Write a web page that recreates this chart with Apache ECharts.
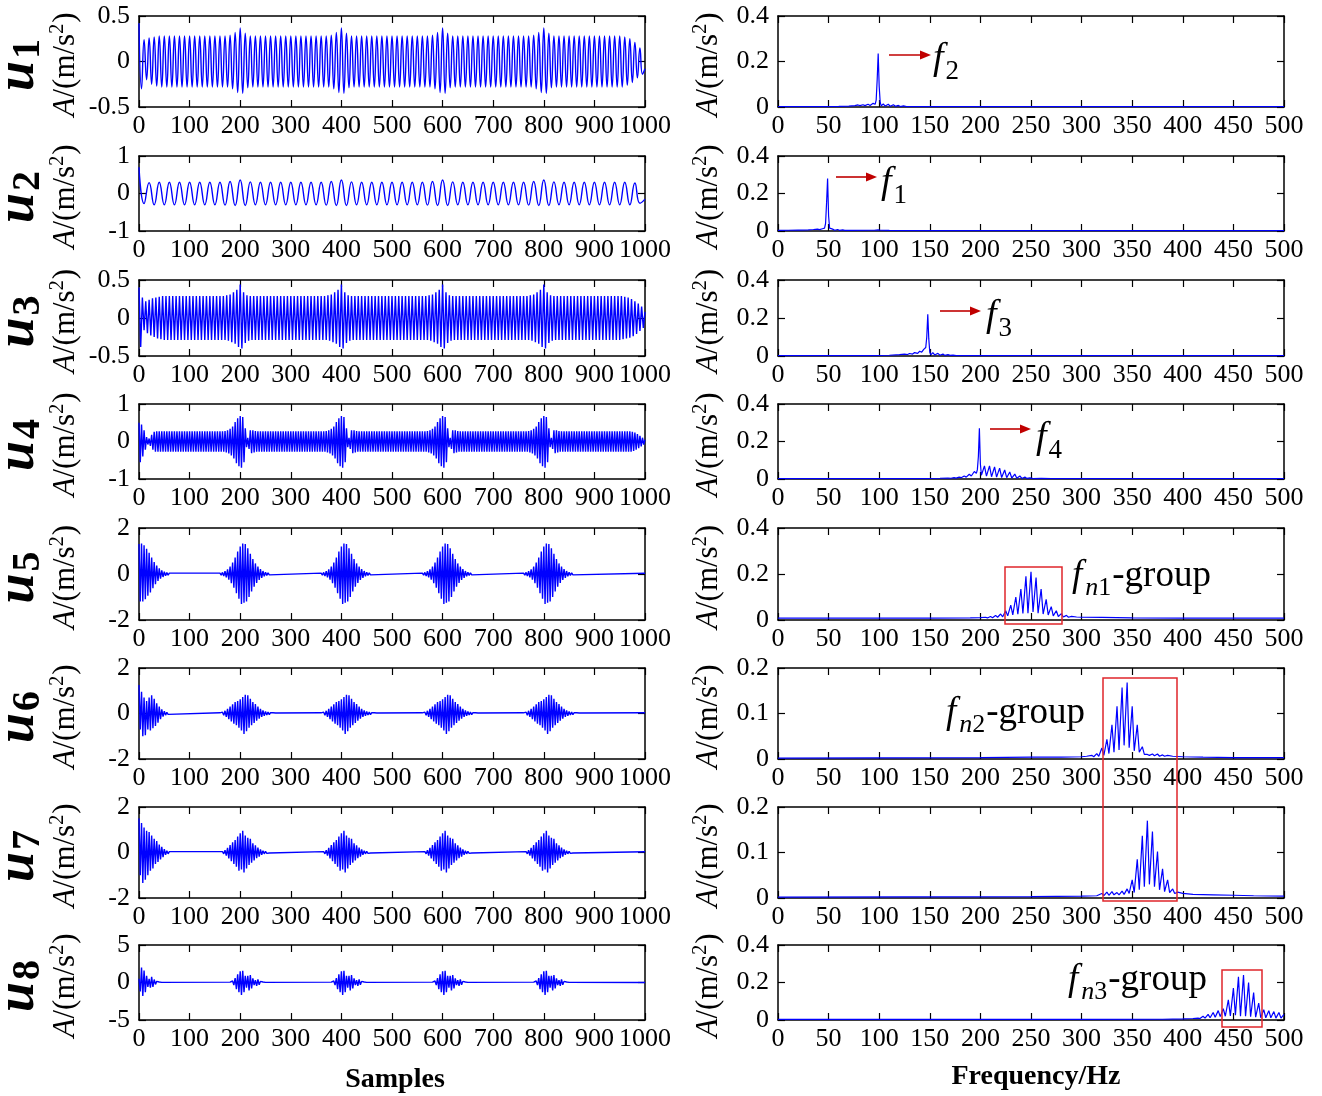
<!DOCTYPE html>
<html><head><meta charset="utf-8">
<script src="https://cdn.jsdelivr.net/npm/echarts/dist/echarts.min.js"></script>
<style>html,body{margin:0;padding:0;background:#fff}#c{width:1322px;height:1096px}</style>
</head><body><div id="c"></div>
<script>
// ---------------- DATA ----------------
const timeXTicks = [0,100,200,300,400,500,600,700,800,900,1000];
const freqXTicks = [0,50,100,150,200,250,300,350,400,450,500];
const timeYTicks = [[-0.5,0,0.5],[-1,0,1],[-0.5,0,0.5],[-1,0,1],[-2,0,2],[-2,0,2],[-2,0,2],[-5,0,5]];
const freqYTicks = [[0,0.2,0.4],[0,0.2,0.4],[0,0.2,0.4],[0,0.2,0.4],[0,0.2,0.4],[0,0.1,0.2],[0,0.1,0.2],[0,0.2,0.4]];
const modeNames = ['1','2','3','4','5','6','7','8'];

// u1: successive extremes, one every 5 samples
const u1Step = 5;
const u1 = [
.42,-.30,.24,-.20,.26,-.25,.27,-.27,.28,-.28,
.28,-.28,.28,-.28,.28,-.28,.28,-.28,.28,-.28,
.28,-.28,.28,-.28,.28,-.28,.28,-.28,.28,-.28,
.28,-.28,.28,-.28,.28,-.28,.29,-.30,.32,-.34,
.37,-.35,.31,-.29,.28,-.28,.28,-.28,.28,-.28,
.28,-.28,.28,-.28,.28,-.28,.28,-.28,.28,-.28,
.28,-.28,.28,-.28,.28,-.28,.28,-.28,.28,-.28,
.28,-.28,.28,-.28,.28,-.28,.29,-.30,.32,-.34,
.37,-.35,.31,-.29,.28,-.28,.28,-.28,.28,-.28,
.28,-.28,.28,-.28,.28,-.28,.28,-.28,.28,-.28,
.28,-.28,.28,-.28,.28,-.28,.28,-.28,.28,-.28,
.28,-.28,.28,-.28,.28,-.28,.29,-.30,.32,-.34,
.37,-.35,.31,-.29,.28,-.28,.28,-.28,.28,-.28,
.28,-.28,.28,-.28,.28,-.28,.28,-.28,.28,-.28,
.28,-.28,.28,-.28,.28,-.28,.28,-.28,.28,-.28,
.28,-.28,.28,-.28,.28,-.28,.29,-.30,.32,-.34,
.37,-.35,.31,-.29,.28,-.28,.28,-.28,.28,-.28,
.28,-.28,.28,-.28,.28,-.28,.28,-.28,.28,-.28,
.28,-.28,.28,-.28,.28,-.28,.28,-.28,.28,-.28,
.28,-.28,.27,-.26,.25,-.23,.21,-.18,.15,-.14,
-.08];

// u2: successive extremes, one every 10 samples
const u2Step = 10;
const u2 = [
.70,-.27,.29,-.30,.30,-.30,.30,-.30,.30,-.30,
.30,-.30,.30,-.30,.30,-.30,.30,-.31,.32,-.32,
.36,-.32,.31,-.30,.30,-.30,.30,-.30,.30,-.30,
.30,-.30,.30,-.30,.30,-.30,.30,-.31,.32,-.32,
.36,-.32,.31,-.30,.30,-.30,.30,-.30,.30,-.30,
.30,-.30,.30,-.30,.30,-.30,.30,-.31,.32,-.32,
.36,-.32,.31,-.30,.30,-.30,.30,-.30,.30,-.30,
.30,-.30,.30,-.30,.30,-.30,.30,-.31,.32,-.32,
.36,-.32,.31,-.30,.30,-.30,.30,-.30,.30,-.30,
.30,-.30,.30,-.30,.30,-.30,.30,-.30,.28,-.26,
-.15];

// u3: successive extremes, one every 10/3 samples
const u3Step = 10/3;
const u3 = [
.40,-.38,.27,-.16,.22,-.20,.24,-.23,.26,-.25,.27,-.27,.28,-.28,.29,
-.29,.29,-.29,.29,-.29,.29,-.29,.29,-.29,.29,-.29,.29,-.29,.29,-.29,
.29,-.29,.29,-.29,.29,-.29,.29,-.29,.29,-.29,.29,-.29,.29,-.29,.29,
-.29,.29,-.29,.29,-.29,.29,-.29,.30,-.30,.31,-.32,.34,-.34,.37,-.38,
.44,-.40,.34,-.33,.30,-.30,.29,-.29,.29,-.29,.29,-.29,.29,-.29,.29,
-.29,.29,-.29,.29,-.29,.29,-.29,.29,-.29,.29,-.29,.29,-.29,.29,-.29,
.29,-.29,.29,-.29,.29,-.29,.29,-.29,.29,-.29,.29,-.29,.29,-.29,.29,
-.29,.29,-.29,.29,-.29,.29,-.29,.30,-.30,.31,-.32,.34,-.34,.37,-.38,
.44,-.40,.34,-.33,.30,-.30,.29,-.29,.29,-.29,.29,-.29,.29,-.29,.29,
-.29,.29,-.29,.29,-.29,.29,-.29,.29,-.29,.29,-.29,.29,-.29,.29,-.29,
.29,-.29,.29,-.29,.29,-.29,.29,-.29,.29,-.29,.29,-.29,.29,-.29,.29,
-.29,.29,-.29,.29,-.29,.29,-.29,.30,-.30,.31,-.32,.34,-.34,.37,-.38,
.44,-.40,.34,-.33,.30,-.30,.29,-.29,.29,-.29,.29,-.29,.29,-.29,.29,
-.29,.29,-.29,.29,-.29,.29,-.29,.29,-.29,.29,-.29,.29,-.29,.29,-.29,
.29,-.29,.29,-.29,.29,-.29,.29,-.29,.29,-.29,.29,-.29,.29,-.29,.29,
-.29,.29,-.29,.29,-.29,.29,-.29,.30,-.30,.31,-.32,.34,-.34,.37,-.38,
.44,-.40,.34,-.33,.30,-.30,.29,-.29,.29,-.29,.29,-.29,.29,-.29,.29,
-.29,.29,-.29,.29,-.29,.29,-.29,.29,-.29,.29,-.29,.29,-.29,.29,-.29,
.29,-.29,.29,-.29,.29,-.29,.29,-.29,.29,-.29,.29,-.29,.29,-.29,.29,
-.29,.29,-.28,.28,-.27,.27,-.26,.25,-.24,.22,-.21,.19,-.17,.15,-.13,
.08];

// u4: successive extremes, one every 2.5 samples
const u4Step = 2.5;
const u4 = [
.50,-.55,.45,-.40,.30,-.22,.12,-.08,.08,-.12,.18,-.22,.26,-.27,.27,-.27,.27,-.27,.27,-.27,
.27,-.27,.27,-.27,.27,-.27,.27,-.27,.27,-.27,.27,-.27,.27,-.27,.27,-.27,.27,-.27,.27,-.27,
.27,-.27,.27,-.27,.27,-.27,.27,-.27,.27,-.27,.27,-.27,.27,-.27,.27,-.27,.27,-.27,.27,-.27,
.27,-.27,.27,-.27,.27,-.27,.27,-.27,.28,-.29,.30,-.32,.34,-.37,.40,-.45,.52,-.58,.62,-.66,
.68,-.70,.65,-.55,.35,-.15,.10,-.20,.30,-.31,.30,-.29,.28,-.27,.27,-.27,.27,-.27,.27,-.27,
.27,-.27,.27,-.27,.27,-.27,.27,-.27,.27,-.27,.27,-.27,.27,-.27,.27,-.27,.27,-.27,.27,-.27,
.27,-.27,.27,-.27,.27,-.27,.27,-.27,.27,-.27,.27,-.27,.27,-.27,.27,-.27,.27,-.27,.27,-.27,
.27,-.27,.27,-.27,.27,-.27,.27,-.27,.28,-.29,.30,-.32,.34,-.37,.40,-.45,.52,-.58,.62,-.66,
.68,-.70,.65,-.55,.35,-.15,.10,-.20,.30,-.31,.30,-.29,.28,-.27,.27,-.27,.27,-.27,.27,-.27,
.27,-.27,.27,-.27,.27,-.27,.27,-.27,.27,-.27,.27,-.27,.27,-.27,.27,-.27,.27,-.27,.27,-.27,
.27,-.27,.27,-.27,.27,-.27,.27,-.27,.27,-.27,.27,-.27,.27,-.27,.27,-.27,.27,-.27,.27,-.27,
.27,-.27,.27,-.27,.27,-.27,.27,-.27,.28,-.29,.30,-.32,.34,-.37,.40,-.45,.52,-.58,.62,-.66,
.68,-.70,.65,-.55,.35,-.15,.10,-.20,.30,-.31,.30,-.29,.28,-.27,.27,-.27,.27,-.27,.27,-.27,
.27,-.27,.27,-.27,.27,-.27,.27,-.27,.27,-.27,.27,-.27,.27,-.27,.27,-.27,.27,-.27,.27,-.27,
.27,-.27,.27,-.27,.27,-.27,.27,-.27,.27,-.27,.27,-.27,.27,-.27,.27,-.27,.27,-.27,.27,-.27,
.27,-.27,.27,-.27,.27,-.27,.27,-.27,.28,-.29,.30,-.32,.34,-.37,.40,-.45,.52,-.58,.62,-.66,
.68,-.70,.65,-.55,.35,-.15,.10,-.20,.30,-.31,.30,-.29,.28,-.27,.27,-.27,.27,-.27,.27,-.27,
.27,-.27,.27,-.27,.27,-.27,.27,-.27,.27,-.27,.27,-.27,.27,-.27,.27,-.27,.27,-.27,.27,-.27,
.27,-.27,.27,-.27,.27,-.27,.27,-.27,.27,-.27,.27,-.27,.27,-.27,.27,-.27,.27,-.27,.27,-.27,
.27,-.27,.27,-.27,.27,-.27,.27,-.27,.27,-.27,.26,-.25,.24,-.22,.20,-.18,.15,-.13,.10,-.08,
.05];

// u5..u8: impulse responses; extremes every 2.5 samples inside each burst
const burstStep = 2.5;
const u5Head = [1.30,-1.20,1.32,-1.20,1.25,-1.10,1.10,-.95,.92,-.80,.72,-.62,.52,-.44,.37,-.30,.25,-.20,.16,-.13,.10,-.08,.06,-.05,.04];
const u5Burst = [.04,-.05,.07,-.09,.12,-.15,.20,-.25,.32,-.40,.50,-.60,.72,-.84,.98,-1.08,1.20,-1.30,1.33,-1.25,1.30,-1.20,1.12,-1.00,.88,-.76,.65,-.55,.46,-.39,.32,-.26,.21,-.17,.13,-.10,.08,-.06,.05,-.04,.03];
const u5Starts = [160,360,560,760];
const u5End = [1000,.03];

const u6Head = [1.25,-.70,.95,-1.00,.70,-.95,.55,-.70,.70,-.75,.80,-.65,.65,-.55,.45,-.40,.30,-.25,.18,-.14,.10,-.07,.05,-.04,.03];
const u6Burst = [.03,-.04,.06,-.08,.12,-.15,.20,-.25,.30,-.35,.40,-.45,.50,-.52,.55,-.62,.62,-.75,.72,-.90,.82,-.78,.80,-.62,.65,-.52,.50,-.42,.42,-.32,.30,-.23,.20,-.15,.14,-.10,.09,-.07,.06,-.05,.04,-.03,.03,-.02,.02];
const u6Starts = [160,360,560,760];
const u6End = [1000,.03];

const u7Head = [1.50,-1.00,1.30,-1.34,1.10,-1.20,.95,-1.00,.90,-.80,.75,-.70,.60,-.50,.50,-.42,.35,-.30,.25,-.20,.15,-.10,.08,-.06,.04,-.03];
const u7Burst = [.04,-.06,.10,-.14,.20,-.26,.33,-.38,.45,-.50,.55,-.62,.70,-.80,.85,-.75,.95,-.88,.75,-.70,.65,-.55,.60,-.45,.40,-.35,.32,-.25,.22,-.18,.14,-.10,.08,-.06,.05,-.04,.03,-.02,.02];
const u7Starts = [165,365,565,765];
const u7End = [1000,.03];

const u8Head = [.50,-1.20,2.00,-1.80,1.60,-1.30,.90,-.60,.50,-.70,.75,-.60,.40,-.25,.15,-.10,.06,-.04,.02];
const u8Burst = [.05,-.10,.20,-.35,.60,-.90,1.10,-1.30,1.50,-1.65,1.55,-1.30,.90,-.70,.90,-1.05,1.00,-.80,.55,-.35,.30,-.45,.40,-.30,.15,-.10,.06,-.04,.02];
const u8Starts = [180,380,580,780];
const u8End = [1000,0];

// spectra: [frequency Hz, amplitude]
const spec1 = [[0,.002],[40,.002],[60,.003],[70,.004],[76,.006],[79,.009],[81,.006],[84,.01],[86,.006],[89,.012],[91,.007],[94,.016],[96,.012],[97,.03],[98,.12],[99,.235],[100,.09],[101,.02],[102,.005],[104,.013],[106,.004],[109,.012],[111,.003],[114,.01],[116,.003],[119,.007],[121,.002],[124,.005],[127,.002],[500,.002]];
const spec2 = [[0,.003],[10,.004],[20,.005],[30,.006],[35,.008],[39,.01],[41,.007],[44,.012],[46,.015],[47,.04],[48,.15],[49,.28],[50,.08],[51,.015],[52,.006],[54,.01],[56,.004],[59,.008],[61,.003],[64,.006],[66,.003],[70,.003],[95,.004],[99,.006],[101,.004],[110,.003],[150,.002],[500,.002]];
const spec3 = [[0,.002],[90,.002],[110,.004],[120,.007],[125,.01],[128,.008],[130,.013],[133,.01],[135,.018],[138,.014],[140,.025],[142,.02],[144,.035],[146,.045],[147,.1],[148,.22],[149,.09],[150,.02],[151,.006],[153,.018],[155,.005],[158,.014],[160,.004],[163,.01],[165,.003],[168,.007],[170,.003],[173,.005],[176,.002],[500,.002]];
const spec4 = [[0,.002],[140,.002],[160,.004],[168,.005],[171,.004],[174,.007],[176,.005],[179,.01],[181,.007],[184,.016],[186,.01],[189,.025],[191,.016],[194,.04],[196,.03],[197,.05],[198,.12],[199,.27],[200,.08],[201,.02],[202,.015],[204,.07],[206,.015],[207,.012],[209,.07],[211,.012],[214,.065],[216,.01],[219,.058],[221,.008],[224,.048],[226,.007],[229,.037],[231,.005],[234,.026],[236,.004],[239,.016],[241,.003],[244,.01],[246,.003],[249,.006],[252,.002],[260,.003],[270,.002],[500,.002]];
const spec5 = [[0,.008],[150,.008],[190,.009],[200,.01],[205,.012],[207,.009],[210,.015],[212,.01],[215,.02],[217,.012],[220,.026],[222,.014],[225,.04],[227,.018],[230,.065],[232,.022],[235,.1],[237,.025],[240,.135],[242,.028],[245,.19],[247,.03],[248,.03],[250,.21],[252,.035],[253,.03],[255,.185],[257,.03],[260,.135],[262,.026],[265,.09],[267,.022],[270,.058],[272,.018],[275,.04],[277,.015],[280,.028],[282,.013],[285,.02],[287,.012],[290,.016],[295,.013],[300,.012],[320,.011],[350,.009],[400,.008],[500,.008]];
const spec6 = [[0,.002],[200,.003],[250,.004],[280,.004],[300,.005],[305,.006],[310,.008],[312,.005],[315,.012],[317,.006],[320,.024],[322,.008],[325,.043],[327,.012],[330,.075],[332,.015],[335,.116],[337,.02],[340,.157],[342,.03],[343,.03],[345,.168],[347,.025],[350,.116],[352,.018],[355,.075],[357,.015],[360,.027],[362,.01],[365,.01],[367,.008],[370,.011],[372,.007],[375,.011],[377,.006],[380,.009],[382,.006],[385,.008],[390,.006],[400,.005],[420,.004],[450,.003],[500,.003]];
const spec7 = [[0,.002],[250,.003],[300,.004],[315,.005],[320,.01],[322,.005],[325,.013],[327,.006],[330,.014],[332,.007],[335,.012],[337,.007],[340,.015],[342,.008],[345,.02],[347,.01],[350,.04],[352,.012],[355,.085],[357,.018],[360,.137],[362,.025],[365,.17],[367,.03],[370,.146],[372,.025],[375,.102],[377,.018],[380,.064],[382,.014],[385,.04],[387,.012],[390,.02],[392,.01],[395,.013],[400,.01],[410,.008],[430,.007],[450,.006],[470,.005],[500,.004]];
const spec8 = [[0,.003],[300,.003],[380,.004],[400,.006],[410,.008],[415,.01],[417,.008],[420,.02],[422,.01],[425,.03],[427,.012],[430,.04],[432,.015],[435,.05],[437,.018],[440,.06],[442,.02],[445,.107],[447,.022],[450,.17],[452,.025],[455,.23],[457,.02],[460,.24],[462,.02],[465,.2],[467,.018],[470,.146],[472,.015],[475,.09],[477,.012],[480,.055],[482,.012],[485,.05],[487,.012],[490,.045],[492,.01],[495,.04],[497,.01],[500,.03]];

// ---------------- BUILD ----------------
function evenSeries(vals, step){ return vals.map((v,i)=>[i*step, v]); }
function burstSeries(head, burst, starts, step, end){
  const d = head.map((v,i)=>[i*step, v]);
  starts.forEach(s => burst.forEach((v,i)=> d.push([s + i*step, v])));
  d.push(end);
  return d;
}
const timeData = [
  evenSeries(u1,u1Step), evenSeries(u2,u2Step), evenSeries(u3,u3Step), evenSeries(u4,u4Step),
  burstSeries(u5Head,u5Burst,u5Starts,burstStep,u5End),
  burstSeries(u6Head,u6Burst,u6Starts,burstStep,u6End),
  burstSeries(u7Head,u7Burst,u7Starts,burstStep,u7End),
  burstSeries(u8Head,u8Burst,u8Starts,burstStep,u8End)
];
const timeSmooth = [true,true,false,false,false,false,false,false];
const specData = [spec1,spec2,spec3,spec4,spec5,spec6,spec7,spec8];

const FF = '"Liberation Serif","Times New Roman",serif';
const rowTop = [16,156,280,404,528,668,807,945];
const rowH = [91,75,76,75,92,91,91,75];
const colLeft = [139,778];
const plotW = 506;

const grids=[], xAxes=[], yAxes=[], series=[];
function fmt(v){ return String(Math.round(v*1000)/1000); }
function axisCommon(ticks, showLabel, margin){
  return {type:'value', min:ticks[0], max:ticks[ticks.length-1], interval:ticks[1]-ticks[0],
    axisLine:{show:true,onZero:false,lineStyle:{color:'#000',width:1.5}},
    axisTick:{show:true,inside:true,length:7,lineStyle:{color:'#000',width:1.2}},
    axisLabel:{show:showLabel,margin:margin,color:'#000',fontFamily:FF,fontSize:26,hideOverlap:false,formatter:fmt},
    splitLine:{show:false}, silent:true};
}
function addPanel(col,row,xt,yt,data,lw,smooth){
  const gi = grids.length;
  grids.push({left:colLeft[col], top:rowTop[row], width:plotW, height:rowH[row], outerBoundsMode:'none', containLabel:false});
  xAxes.push(Object.assign(axisCommon(xt,true,6),{gridIndex:gi,position:'bottom'}));
  xAxes.push(Object.assign(axisCommon(xt,false,6),{gridIndex:gi,position:'top'}));
  yAxes.push(Object.assign(axisCommon(yt,true,9),{gridIndex:gi,position:'left'}));
  yAxes.push(Object.assign(axisCommon(yt,false,9),{gridIndex:gi,position:'right'}));
  series.push({type:'line', xAxisIndex:2*gi, yAxisIndex:2*gi, data:data, showSymbol:false, symbol:'none',
    smooth:smooth, lineStyle:{color:'#0000ff',width:lw}, silent:true, animation:false, z:3});
}
for(let r=0;r<8;r++) addPanel(0,r,timeXTicks,timeYTicks[r],timeData[r],1.4,timeSmooth[r]);
for(let r=0;r<8;r++) addPanel(1,r,freqXTicks,freqYTicks[r],specData[r],1.2,false);

// text runs built from measured pieces
const mctx = document.createElement('canvas').getContext('2d');
function fnt(s,z){ return s+' '+z+'px '+FF; }
function tw(t,f){ mctx.font=f; return mctx.measureText(t).width; }
function textRun(x,y,rot,parts,color,center){
  const ws = parts.map(p=>tw(p.t,fnt(p.s,p.z))+(p.dx||0));
  const total = ws.reduce((a,b)=>a+b,0);
  let cx = center ? -total/2 : 0;
  const children = parts.map((p,i)=>{
    const el = {type:'text', x:cx+(p.dx||0), y:(p.b||0)-0.34*p.z,
      style:{text:p.t, font:fnt(p.s,p.z), fill:color, textAlign:'left', textVerticalAlign:'middle', align:'left', verticalAlign:'middle'}};
    cx += ws[i];
    return el;
  });
  return {type:'group', x:x, y:y, rotation:rot, children:children, z:20};
}
const graphics = [];
const ylabParts = [{t:'A',s:'italic',z:31,b:9},{t:'/(m/s',s:'normal',z:31,b:9},{t:'2',s:'normal',z:20,b:-2},{t:')',s:'normal',z:31,b:9,dx:1}];
for(let r=0;r<8;r++){
  const cy = rowTop[r]+rowH[r]/2;
  graphics.push(textRun(25, cy+3.5, Math.PI/2, [{t:'u',s:'italic bold',z:54,b:12},{t:modeNames[r],s:'bold',z:40,b:17,dx:2}], '#000', true));
  graphics.push(textRun(67, cy+3, Math.PI/2, ylabParts, '#000', true));
  graphics.push(textRun(710, cy+3, Math.PI/2, ylabParts, '#000', true));
}
// arrows + f labels
const RED='#c00000', BOXRED='#e0262b';
function arrow(x1,x2,y){
  graphics.push({type:'line',shape:{x1:x1,y1:y,x2:x2-9,y2:y},style:{stroke:RED,lineWidth:1.6},z:20});
  graphics.push({type:'polygon',shape:{points:[[x2-11,y-4.5],[x2,y],[x2-11,y+4.5]]},style:{fill:RED},z:20});
}
arrow(889,931,55);
arrow(836,877,177);
arrow(940,981,311);
arrow(990,1031,429);
function fLabel(x,base,sub){
  graphics.push(textRun(x,base,0,[{t:'f',s:'italic',z:38,b:0},{t:sub,s:'normal',z:27,b:9,dx:2}],'#000',false));
}
fLabel(933,72,'2');
fLabel(881,196,'1');
fLabel(986,329,'3');
fLabel(1036,451,'4');
function groupLabel(x,base,sub){
  graphics.push(textRun(x,base,0,[{t:'f',s:'italic',z:37,b:0},{t:'n',s:'italic',z:26,b:8,dx:3},{t:sub,s:'normal',z:26,b:8},{t:'-group',s:'normal',z:37,b:0,dx:1}],'#000',false));
}
groupLabel(1072,589,'1');
groupLabel(946,726,'2');
groupLabel(1068,993,'3');
function box(x1,y1,x2,y2){
  graphics.push({type:'rect',shape:{x:x1,y:y1,width:x2-x1,height:y2-y1},style:{fill:'rgba(0,0,0,0)',stroke:BOXRED,lineWidth:1.5},z:21});
}
box(1005,567,1062,624);
box(1103,678,1177,901);
box(1222,970,1262,1027);
graphics.push({type:'text',x:395,y:1080,style:{text:'Samples',font:fnt('bold',28),fill:'#000',textAlign:'center',textVerticalAlign:'middle',align:'center',verticalAlign:'middle'},z:20});
graphics.push({type:'text',x:1036,y:1077,style:{text:'Frequency/Hz',font:fnt('bold',28),fill:'#000',textAlign:'center',textVerticalAlign:'middle',align:'center',verticalAlign:'middle'},z:20});

const chart = echarts.init(document.getElementById('c'), null, {renderer:'canvas'});
chart.setOption({
  animation:false,
  backgroundColor:'#fff',
  grid:grids, xAxis:xAxes, yAxis:yAxes, series:series,
  graphic:{elements:graphics}
});
</script></body></html>
